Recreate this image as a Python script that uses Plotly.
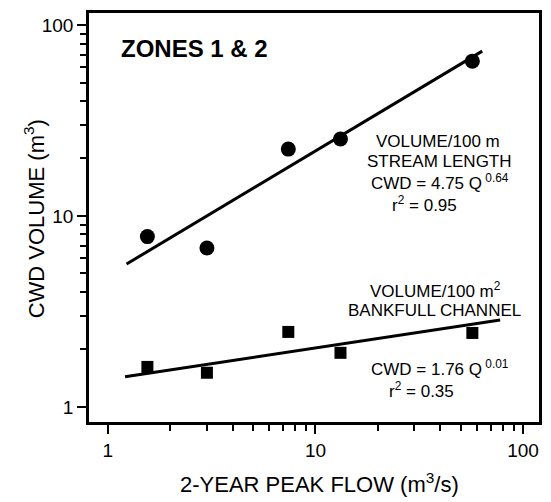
import plotly.graph_objects as go

# Data
peak_flow = [1.55, 3.0, 7.4, 13.2, 57.0]           # 2-year peak flow (m3/s)
vol_stream = [7.8, 6.8, 22.4, 25.3, 64.7]          # volume per 100 m stream length
vol_channel = [1.62, 1.51, 2.47, 1.92, 2.44]       # volume per 100 m2 bankfull channel

fit_stream_x = [1.23, 63.6]
fit_stream_y = [5.6, 73.0]
fit_channel_x = [1.21, 77.6]
fit_channel_y = [1.44, 2.85]

x_ticks = [1, 10, 100]
y_ticks = [1, 10, 100]
minor_vals = [2, 3, 4, 5, 6, 7, 8, 9, 20, 30, 40, 50, 60, 70, 80, 90]

FONT = "Liberation Sans, Arial, sans-serif"

fig = go.Figure()
fig.add_trace(go.Scatter(x=fit_stream_x, y=fit_stream_y, mode="lines",
                         line=dict(color="black", width=3), showlegend=False))
fig.add_trace(go.Scatter(x=fit_channel_x, y=fit_channel_y, mode="lines",
                         line=dict(color="black", width=3), showlegend=False))
fig.add_trace(go.Scatter(x=peak_flow, y=vol_stream, mode="markers",
                         marker=dict(symbol="circle", size=15, color="black"),
                         showlegend=False))
fig.add_trace(go.Scatter(x=peak_flow, y=vol_channel, mode="markers",
                         marker=dict(symbol="square", size=12, color="black"),
                         showlegend=False))

W, H = 551, 502
L, R, T, B = 89, 9, 13, 80
pw, ph = W - L - R, H - T - B


def px(x):
    return (x - L) / pw


def py(y):
    return (H - B - y) / ph


annos = [
    ("<b>ZONES 1 &amp; 2</b>", 195, 48, 24, 0),
    ("VOLUME/100 m", 440, 142, 17, 0),
    ("STREAM LENGTH", 442, 162, 17, 0),
    ("CWD = 4.75 Q<sup> 0.64</sup>", 442, 182, 17, 0),
    ("r<sup>2</sup> = 0.95", 427, 204, 17, 0),
    ("VOLUME/100 m<sup>2</sup>", 438, 290, 17, 0),
    ("BANKFULL CHANNEL", 437, 310, 17, 0),
    ("CWD = 1.76 Q<sup> 0.01</sup>", 442, 368, 17, 0),
    ("r<sup>2</sup> = 0.35", 424, 390, 17, 0),
    ("2-YEAR PEAK FLOW (m<sup>3</sup>/s)", 321, 483, 22, 0),
    ("CWD VOLUME (m<sup>3</sup>)", 34, 219, 22, -90),
]
for text, x, y, size, ang in annos:
    fig.add_annotation(text=text, x=px(x), y=py(y), xref="paper", yref="paper",
                       xanchor="center", yanchor="middle", showarrow=False,
                       textangle=ang,
                       font=dict(family=FONT, size=size, color="black"))

axis_common = dict(
    type="log", showgrid=False, zeroline=False,
    showline=True, linecolor="black", linewidth=2.5, mirror=True,
    ticks="outside", ticklen=9, tickwidth=2, tickcolor="black",
    tickfont=dict(family=FONT, size=19, color="black"),
    minor=dict(tickmode="array", tickvals=minor_vals, ticks="outside",
               ticklen=6, tickwidth=2, tickcolor="black"),
)

fig.update_xaxes(**axis_common, range=[-0.091, 2.077], tickmode="array",
                 tickvals=x_ticks, ticktext=[str(v) for v in x_ticks])
fig.update_yaxes(**axis_common, range=[-0.079, 2.063], tickmode="array",
                 tickvals=y_ticks, ticktext=[str(v) for v in y_ticks])

fig.update_layout(width=W, height=H, margin=dict(l=L, r=R, t=T, b=B),
                  paper_bgcolor="white", plot_bgcolor="white",
                  font=dict(family=FONT, color="black"))

fig.write_html("out.html")
